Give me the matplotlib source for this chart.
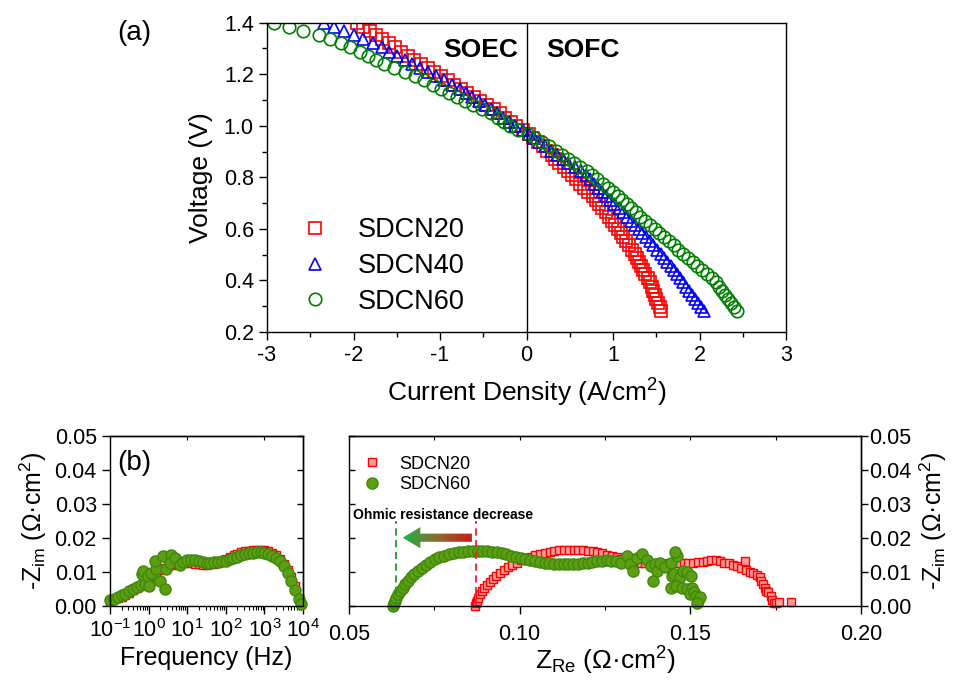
import numpy as np
import matplotlib
matplotlib.use('Agg')
import matplotlib.pyplot as plt
from matplotlib.patches import Polygon
from matplotlib.colors import LinearSegmentedColormap
from matplotlib.ticker import MultipleLocator, FormatStrFormatter, LogLocator

plt.rcParams['font.family'] = ['Liberation Sans', 'DejaVu Sans']
plt.rcParams['mathtext.fontset'] = 'custom'
plt.rcParams['mathtext.rm'] = 'Liberation Sans'
plt.rcParams['mathtext.it'] = 'Liberation Sans:italic'
plt.rcParams['mathtext.bf'] = 'Liberation Sans:bold'
plt.rcParams['axes.linewidth'] = 1.0
plt.rcParams['axes.unicode_minus'] = False

#####-------------------- (a) I-V curves
voltage = [1.400, 1.384, 1.368, 1.352, 1.336, 1.320, 1.304, 1.288, 1.272, 1.256,
           1.240, 1.224, 1.208, 1.192, 1.176, 1.160, 1.144, 1.128, 1.112, 1.096,
           1.080, 1.064, 1.048, 1.032, 1.016, 1.000, 0.984, 0.968, 0.952, 0.936,
           0.920, 0.904, 0.888, 0.872, 0.856, 0.840, 0.824, 0.808, 0.792, 0.776,
           0.760, 0.744, 0.728, 0.712, 0.696, 0.680, 0.664, 0.648, 0.632, 0.616,
           0.600, 0.584, 0.568, 0.552, 0.536, 0.520, 0.504, 0.488, 0.472, 0.456,
           0.440, 0.424, 0.408, 0.392, 0.376, 0.360, 0.344, 0.328, 0.312, 0.296,
           0.280]

i_sdcn20 = [-1.960, -1.885, -1.810, -1.735, -1.665, -1.595, -1.525, -1.450, -1.370, -1.295,
            -1.215, -1.140, -1.065, -0.985, -0.910, -0.835, -0.760, -0.685, -0.610, -0.535,
            -0.460, -0.380, -0.305, -0.245, -0.180, -0.120, -0.045, 0.025, 0.075, 0.130,
            0.185, 0.235, 0.290, 0.335, 0.380, 0.430, 0.475, 0.525, 0.570, 0.620,
            0.670, 0.715, 0.765, 0.800, 0.840, 0.875, 0.915, 0.950, 0.990, 1.025,
            1.060, 1.090, 1.120, 1.155, 1.185, 1.215, 1.250, 1.280, 1.300, 1.325,
            1.350, 1.375, 1.400, 1.425, 1.445, 1.465, 1.485, 1.500, 1.520, 1.540,
            1.560]

i_sdcn40 = [-2.340, -2.230, -2.115, -2.000, -1.890, -1.780, -1.670, -1.585, -1.500, -1.410,
            -1.325, -1.235, -1.140, -1.050, -0.955, -0.860, -0.765, -0.695, -0.625, -0.555,
            -0.485, -0.415, -0.345, -0.275, -0.205, -0.130, -0.045, 0.030, 0.090, 0.150,
            0.215, 0.280, 0.350, 0.420, 0.485, 0.555, 0.625, 0.685, 0.730, 0.780,
            0.825, 0.875, 0.920, 0.970, 1.015, 1.065, 1.110, 1.160, 1.205, 1.250,
            1.295, 1.340, 1.380, 1.425, 1.465, 1.510, 1.550, 1.590, 1.625, 1.665,
            1.700, 1.735, 1.770, 1.805, 1.840, 1.875, 1.910, 1.945, 1.980, 2.015,
            2.050]

i_sdcn60 = [-2.920, -2.750, -2.580, -2.400, -2.275, -2.150, -2.040, -1.925, -1.830, -1.740,
            -1.650, -1.530, -1.410, -1.285, -1.185, -1.085, -0.990, -0.900, -0.800, -0.710,
            -0.615, -0.510, -0.410, -0.330, -0.260, -0.190, -0.100, 0.020, 0.100, 0.180,
            0.260, 0.340, 0.410, 0.480, 0.550, 0.620, 0.695, 0.760, 0.820, 0.880,
            0.940, 1.000, 1.055, 1.105, 1.160, 1.210, 1.260, 1.315, 1.370, 1.425,
            1.480, 1.535, 1.590, 1.645, 1.700, 1.750, 1.810, 1.865, 1.920, 1.970,
            2.030, 2.085, 2.140, 2.195, 2.230, 2.260, 2.295, 2.330, 2.360, 2.395,
            2.430]

#####-------------------- (b) Bode, -Zim vs frequency
f_sdcn20 = [0.1, 0.1259, 0.1585, 0.1995, 0.2512, 0.3162, 0.3981, 0.5012, 0.631, 0.7943,
            1.0, 1.259, 1.585, 1.995, 2.512, 3.162, 3.981, 5.012, 6.31, 7.943,
            10.0, 12.59, 15.85, 19.95, 25.12, 31.62, 39.81, 50.12, 63.1, 79.43,
            100.0, 125.9, 158.5, 199.5, 251.2, 316.2, 398.1, 501.2, 631.0, 794.3,
            1000.0, 1259.0, 1585.0, 1995.0, 2512.0, 3162.0, 3981.0, 5012.0, 6310.0, 7943.0]
zb_sdcn20 = [0.0016, 0.0020, 0.0024, 0.0027, 0.0032, 0.0039, 0.0046, 0.0053, 0.0060, 0.0070,
             0.0079, 0.0088, 0.0097, 0.0105, 0.0112, 0.0118, 0.0122, 0.0125, 0.0127, 0.0128,
             0.0128, 0.0127, 0.0125, 0.0123, 0.0122, 0.0122, 0.0123, 0.0125, 0.0128, 0.0132,
             0.0137, 0.0143, 0.0149, 0.0154, 0.0158, 0.0161, 0.0163, 0.0165, 0.0166, 0.0166,
             0.0165, 0.0162, 0.0157, 0.0149, 0.0139, 0.0125, 0.0107, 0.0085, 0.0058, 0.0022]

f_sdcn60 = [0.1, 0.126, 0.158, 0.2, 0.251, 0.316, 0.398, 0.5, 0.63, 0.79,
            0.66, 0.72, 0.98, 1.17, 1.0, 1.58, 1.95, 2.63, 1.45, 2.34,
            2.88, 3.89, 3.55, 4.79, 6.31, 7.94, 10.0, 12.6, 15.8, 20.0,
            25.1, 31.6, 39.8, 50.1, 63.1, 79.4, 100.0, 126.0, 158.0, 200.0,
            251.0, 316.0, 398.0, 501.0, 631.0, 794.0, 1000.0, 1259.0, 1585.0, 1995.0,
            2512.0, 3162.0, 3981.0, 5012.0, 6310.0, 7943.0, 8710.0]
zb_sdcn60 = [0.0018, 0.0022, 0.0026, 0.0031, 0.0036, 0.0043, 0.0050, 0.0057, 0.0061, 0.0064,
             0.0093, 0.0103, 0.0088, 0.0098, 0.0060, 0.0108, 0.0074, 0.0050, 0.0132, 0.0146,
             0.0108, 0.0151, 0.0127, 0.0141, 0.0122, 0.0130, 0.0134, 0.0136, 0.0134, 0.0132,
             0.0130, 0.0128, 0.0128, 0.0129, 0.0129, 0.0131, 0.0133, 0.0137, 0.0141, 0.0145,
             0.0149, 0.0152, 0.0155, 0.0157, 0.0159, 0.0159, 0.0157, 0.0153, 0.0148, 0.0141,
             0.0131, 0.0117, 0.0098, 0.0073, 0.0046, 0.0021, 0.0007]

#####-------------------- (b) Nyquist
zre_sdcn20 = [0.0869, 0.0871, 0.0874, 0.0878, 0.0883, 0.0889, 0.0896, 0.0904, 0.0913, 0.0922,
              0.0932, 0.0943, 0.0954, 0.0966, 0.0978, 0.0991, 0.1004, 0.1018, 0.1032, 0.1046,
              0.1060, 0.1074, 0.1088, 0.1102, 0.1116, 0.1130, 0.1144, 0.1158, 0.1172, 0.1186,
              0.1200, 0.1214, 0.1228, 0.1242, 0.1256, 0.1270, 0.1284, 0.1298, 0.1312, 0.1326,
              0.1340, 0.1354, 0.1368, 0.1382, 0.1396, 0.1410, 0.1424, 0.1438, 0.1452, 0.1466,
              0.1480, 0.1494, 0.1508, 0.1522, 0.1536, 0.1550, 0.1562, 0.1575, 0.1588, 0.1600,
              0.1612, 0.1625, 0.1637, 0.1648, 0.1660, 0.1664, 0.1675, 0.1684, 0.1694, 0.1703,
              0.1708, 0.1712, 0.1718, 0.1722, 0.1728, 0.1735, 0.1740, 0.1745, 0.1752, 0.1760,
              0.1796]
zim_sdcn20 = [0.0000, 0.0008, 0.0016, 0.0025, 0.0034, 0.0044, 0.0053, 0.0062, 0.0071, 0.0080,
              0.0089, 0.0098, 0.0106, 0.0114, 0.0121, 0.0128, 0.0134, 0.0140, 0.0145, 0.0150,
              0.0154, 0.0157, 0.0160, 0.0162, 0.0164, 0.0165, 0.0165, 0.0165, 0.0165, 0.0164,
              0.0163, 0.0161, 0.0158, 0.0155, 0.0151, 0.0147, 0.0143, 0.0139, 0.0135, 0.0132,
              0.0129, 0.0127, 0.0126, 0.0125, 0.0125, 0.0125, 0.0125, 0.0126, 0.0126, 0.0127,
              0.0127, 0.0128, 0.0128, 0.0129, 0.0130, 0.0131, 0.0134, 0.0136, 0.0131, 0.0128,
              0.0126, 0.0121, 0.0117, 0.0112, 0.0131, 0.0107, 0.0100, 0.0096, 0.0090, 0.0086,
              0.0074, 0.0064, 0.0054, 0.0045, 0.0040, 0.0030, 0.0018, 0.0010, 0.0008, 0.0012,
              0.0012]

zre_sdcn60 = [0.0629, 0.0632, 0.0635, 0.0639, 0.0644, 0.0650, 0.0657, 0.0664, 0.0672, 0.0681,
              0.0691, 0.0702, 0.0713, 0.0725, 0.0738, 0.0751, 0.0765, 0.0779, 0.0793, 0.0807,
              0.0821, 0.0835, 0.0849, 0.0863, 0.0877, 0.0891, 0.0905, 0.0919, 0.0933, 0.0947,
              0.0961, 0.0975, 0.0989, 0.1003, 0.1017, 0.1031, 0.1045, 0.1059, 0.1073, 0.1087,
              0.1101, 0.1115, 0.1129, 0.1143, 0.1157, 0.1171, 0.1185, 0.1199, 0.1213, 0.1227,
              0.1241, 0.1255, 0.1269, 0.1283, 0.1297, 0.1313, 0.1322, 0.1333, 0.1345, 0.1358,
              0.1372, 0.1385, 0.1396, 0.1401, 0.1391, 0.1412, 0.1425, 0.1444, 0.1460, 0.1455,
              0.1445, 0.1452, 0.1469, 0.1478, 0.1490, 0.1503, 0.1444, 0.1459, 0.1475, 0.1490,
              0.1505, 0.1498, 0.1512, 0.1518, 0.1522, 0.1527, 0.1520]
zim_sdcn60 = [0.0000, 0.0008, 0.0016, 0.0025, 0.0034, 0.0044, 0.0054, 0.0064, 0.0074, 0.0084,
              0.0094, 0.0104, 0.0113, 0.0122, 0.0130, 0.0137, 0.0143, 0.0148, 0.0152, 0.0155,
              0.0158, 0.0160, 0.0161, 0.0162, 0.0162, 0.0162, 0.0161, 0.0160, 0.0158, 0.0155,
              0.0152, 0.0148, 0.0145, 0.0141, 0.0137, 0.0134, 0.0131, 0.0129, 0.0127, 0.0126,
              0.0125, 0.0124, 0.0124, 0.0123, 0.0123, 0.0124, 0.0126, 0.0128, 0.0130, 0.0132,
              0.0133, 0.0134, 0.0133, 0.0131, 0.0128, 0.0148, 0.0123, 0.0104, 0.0140, 0.0153,
              0.0135, 0.0118, 0.0124, 0.0104, 0.0074, 0.0127, 0.0115, 0.0128, 0.0148, 0.0160,
              0.0089, 0.0095, 0.0084, 0.0104, 0.0100, 0.0089, 0.0054, 0.0060, 0.0054, 0.0050,
              0.0054, 0.0035, 0.0040, 0.0030, 0.0015, 0.0028, 0.0008]

ohmic_sdcn60 = 0.0639
ohmic_sdcn20 = 0.0873

red_face = '#ff9c9c'
green_face = '#5f9e12'
green_edge = '#3c8a0c'

fig = plt.figure(figsize=(9.66, 6.81), dpi=100)

##------------------ panel (a)
ax = fig.add_axes([0.2764, 0.5125, 0.5373, 0.4542])
ax.plot(i_sdcn20, voltage, 's', mfc='none', mec='red', ms=8, mew=1.2, label='SDCN20')
ax.plot(i_sdcn40, voltage, '^', mfc='none', mec='blue', ms=8.5, mew=1.2, label='SDCN40')
ax.plot(i_sdcn60, voltage, 'o', mfc='none', mec='green', ms=9, mew=1.2, label='SDCN60')
ax.axvline(0, color='black', lw=1.0)
ax.set_xlim(-3, 3)
ax.set_ylim(0.2, 1.4)
ax.xaxis.set_major_locator(MultipleLocator(1))
ax.xaxis.set_minor_locator(MultipleLocator(0.5))
ax.yaxis.set_major_locator(MultipleLocator(0.2))
ax.yaxis.set_minor_locator(MultipleLocator(0.1))
ax.yaxis.set_major_formatter(FormatStrFormatter('%.1f'))
ax.tick_params(which='major', direction='out', length=6, width=1, labelsize=15.5)
ax.tick_params(which='minor', direction='out', length=3.5, width=1)
ax.set_xlabel('Current Density (A/cm$^2$)', fontsize=19, labelpad=8)
ax.set_ylabel('Voltage (V)', fontsize=19, labelpad=8)
ax.text(-0.1, 1.294, 'SOEC', fontsize=19, fontweight='bold', ha='right', va='center')
ax.text(0.23, 1.294, 'SOFC', fontsize=19, fontweight='bold', ha='left', va='center')
ax.legend(loc='lower left', bbox_to_anchor=(0.067, 0.055), frameon=False, fontsize=19.5,
          handlelength=1.0, handletextpad=1.05, labelspacing=0.36, borderpad=0, borderaxespad=0)
fig.text(0.121, 0.951, '(a)', fontsize=20, ha='left', va='center')

##------------------ panel (b) left, Bode
bx = fig.add_axes([0.1139, 0.1101, 0.1998, 0.2496])
bx.plot(f_sdcn20, zb_sdcn20, 's', mfc=red_face, mec='red', ms=6, mew=1.0, clip_on=False)
bx.plot(f_sdcn60, zb_sdcn60, 'o', mfc=green_face, mec=green_edge, ms=8, mew=1.0, clip_on=False)
bx.set_xscale('log')
bx.set_xlim(0.1, 1e4)
bx.set_ylim(0, 0.05)
bx.xaxis.set_major_locator(LogLocator(base=10, numticks=10))
bx.xaxis.set_minor_locator(LogLocator(base=10, subs=np.arange(2, 10), numticks=10))
bx.yaxis.set_major_locator(MultipleLocator(0.01))
bx.yaxis.set_major_formatter(FormatStrFormatter('%.2f'))
bx.tick_params(which='major', direction='out', length=6, width=1, labelsize=15.5)
bx.tick_params(which='minor', direction='out', length=3, width=0.8)
bx.set_xlabel('Frequency (Hz)', fontsize=18, labelpad=3)
bx.set_ylabel('-Z$_{\\rm im}$ (\u03a9\u00b7cm$^2$)', fontsize=18, labelpad=4)
bx.text(0.036, 0.84, '(b)', transform=bx.transAxes, fontsize=20, ha='left', va='center')
sx = bx.secondary_xaxis('top')
sx.tick_params(which='both', direction='in', labeltop=False, length=3, width=0.8)
sy = bx.secondary_yaxis('right')
sy.yaxis.set_major_locator(MultipleLocator(0.01))
sy.tick_params(direction='in', labelright=False, length=4, width=1)

##------------------ panel (b) right, Nyquist
nx = fig.add_axes([0.3613, 0.1101, 0.5300, 0.2496])
nx.plot(zre_sdcn20, zim_sdcn20, 's', mfc=red_face, mec='red', ms=6, mew=1.0, label='SDCN20', clip_on=False)
nx.plot(zre_sdcn60, zim_sdcn60, 'o', mfc=green_face, mec=green_edge, ms=8, mew=1.0, label='SDCN60', clip_on=False)
nx.vlines(ohmic_sdcn60, 0, 0.025, colors='#1e9a2a', linestyles=(0, (4, 2.5)), lw=1.3)
nx.vlines(ohmic_sdcn20, 0, 0.025, colors='#f0202a', linestyles=(0, (4, 2.5)), lw=1.3)

# gradient arrow, green head pointing to lower resistance
tip, tail, yc = 0.0657, 0.0860, 0.0201
hl, hh, sh = 0.0052, 0.0031, 0.0012
verts = [(tip, yc), (tip + hl, yc + hh), (tip + hl, yc + sh), (tail, yc + sh),
         (tail, yc - sh), (tip + hl, yc - sh), (tip + hl, yc - hh)]
arrow = Polygon(verts, closed=True, facecolor='none', edgecolor='none')
nx.add_patch(arrow)
cmap = LinearSegmentedColormap.from_list('gr', ['#22b24a', '#8a6a2a', '#d01818'])
grad = np.linspace(0, 1, 256).reshape(1, -1)
im = nx.imshow(grad, cmap=cmap, extent=(tip, tail, yc - hh, yc + hh), aspect='auto', zorder=3)
im.set_clip_path(arrow)
nx.text(0.0512, 0.0268, 'Ohmic resistance decrease', fontsize=10, fontweight='bold', ha='left', va='center')

nx.set_xlim(0.05, 0.20)
nx.set_ylim(0, 0.05)
nx.xaxis.set_major_locator(MultipleLocator(0.05))
nx.xaxis.set_minor_locator(MultipleLocator(0.025))
nx.xaxis.set_major_formatter(FormatStrFormatter('%.2f'))
nx.yaxis.set_major_locator(MultipleLocator(0.01))
nx.tick_params(axis='x', which='major', direction='out', length=6, width=1, labelsize=15.5, pad=7)
nx.tick_params(axis='x', which='minor', direction='out', length=3, width=0.8)
nx.tick_params(axis='y', direction='in', length=4, width=1, labelleft=False)
nx.set_xlabel('Z$_{\\rm Re}$ (\u03a9\u00b7cm$^2$)', fontsize=19, labelpad=0)
nsx = nx.secondary_xaxis('top')
nsx.xaxis.set_major_locator(MultipleLocator(0.05))
nsx.xaxis.set_minor_locator(MultipleLocator(0.025))
nsx.tick_params(which='both', direction='in', labeltop=False, length=3, width=0.8)
nsy = nx.secondary_yaxis('right')
nsy.yaxis.set_major_locator(MultipleLocator(0.01))
nsy.yaxis.set_major_formatter(FormatStrFormatter('%.2f'))
nsy.tick_params(direction='out', length=5, width=1, labelsize=15.5, pad=1)
nsy.set_ylabel('-Z$_{\\rm im}$ (\u03a9\u00b7cm$^2$)', fontsize=18, labelpad=4)
nx.legend(loc='upper left', bbox_to_anchor=(0.028, 0.885), frameon=False, fontsize=13,
          handlelength=1.0, handletextpad=1.0, labelspacing=0.2, borderpad=0, borderaxespad=0)

fig.savefig('out.png', dpi=100)
